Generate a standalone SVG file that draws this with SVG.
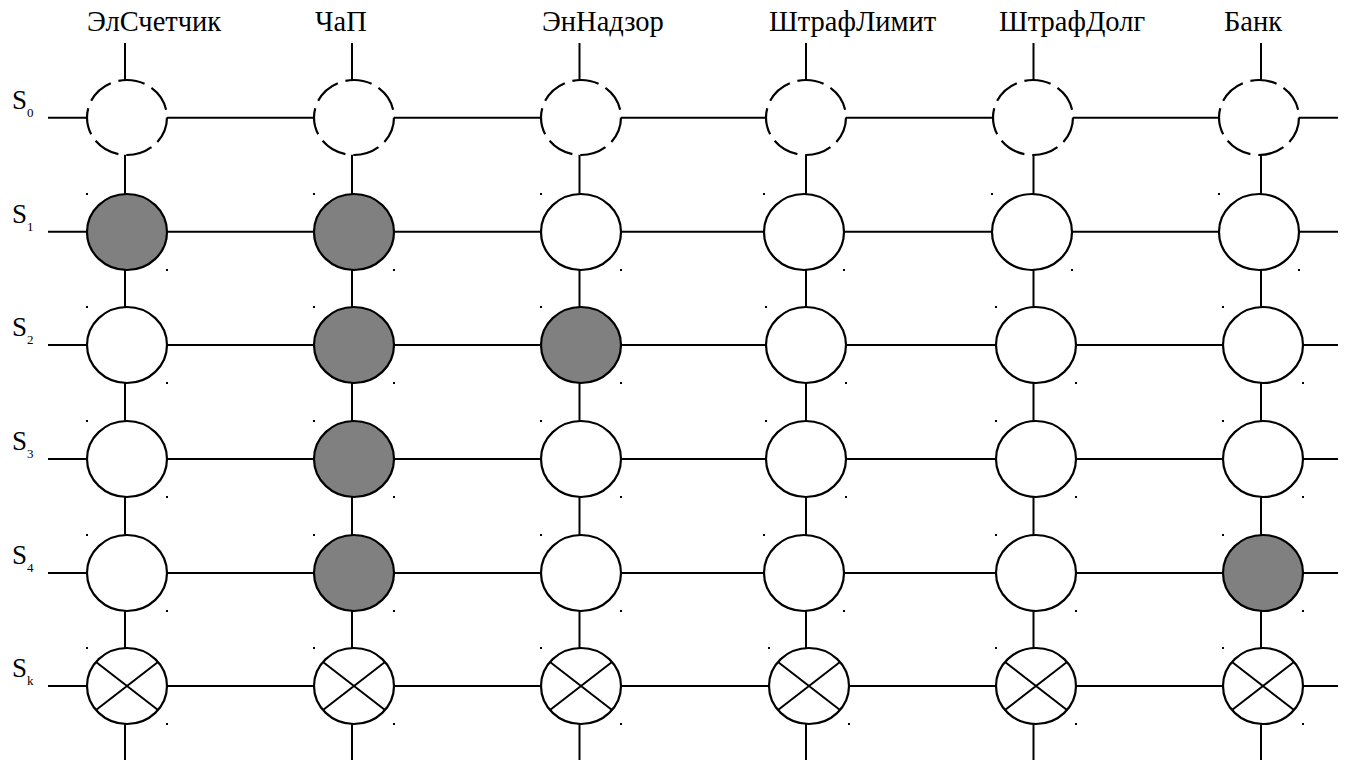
<svg xmlns="http://www.w3.org/2000/svg" width="1346" height="760" viewBox="0 0 1346 760">
<style>
.ln{stroke:#000;stroke-width:2;fill:none}
.nd{stroke:#000;stroke-width:2.2;fill:#fff}
.on{fill:#808080}
.ds{stroke-dasharray:27 8}
.x{stroke:#000;stroke-width:2}
.dt{fill:#000}
text{font-family:'Liberation Serif','DejaVu Serif',serif;fill:#000}
.hd{font-size:28.5px}
.sl{font-size:27px}
.sb{font-size:13px}
</style>
<defs>
<rect id="dot" width="2" height="2" class="dt"/>
</defs>
<rect width="1346" height="760" fill="#fff"/>
<g id="headers" font-family="Liberation Serif, DejaVu Serif, serif">
<text class="hd" x="87" y="31">ЭлСчетчик</text>
<text class="hd" x="315" y="31">ЧаП</text>
<text class="hd" x="542" y="31">ЭнНадзор</text>
<text class="hd" x="769" y="31">ШтрафЛимит</text>
<text class="hd" x="999" y="31">ШтрафДолг</text>
<text class="hd" x="1224" y="31">Банк</text>
</g>
<g id="row-labels" font-family="Liberation Serif, DejaVu Serif, serif">
<text class="sl" x="12" y="109">S<tspan class="sb" x="27" y="117">0</tspan></text>
<text class="sl" x="12" y="223">S<tspan class="sb" x="27" y="231">1</tspan></text>
<text class="sl" x="12" y="336">S<tspan class="sb" x="27" y="344">2</tspan></text>
<text class="sl" x="12" y="450">S<tspan class="sb" x="27" y="458">3</tspan></text>
<text class="sl" x="12" y="564">S<tspan class="sb" x="27" y="572">4</tspan></text>
<text class="sl" x="12" y="677">S<tspan class="sb" x="27" y="685">k</tspan></text>
</g>
<g id="connectors" class="ln">
<line x1="125" y1="43" x2="125" y2="760"/>
<line x1="352" y1="43" x2="352" y2="760"/>
<line x1="579.5" y1="43" x2="579.5" y2="760"/>
<line x1="806" y1="43" x2="806" y2="760"/>
<line x1="1033.5" y1="43" x2="1033.5" y2="760"/>
<line x1="1261" y1="43" x2="1261" y2="760"/>
<line x1="48" y1="117.7" x2="1338" y2="117.7"/>
<line x1="48" y1="231.7" x2="1338" y2="231.7"/>
<line x1="48" y1="345" x2="1338" y2="345"/>
<line x1="48" y1="459" x2="1338" y2="459"/>
<line x1="48" y1="573" x2="1338" y2="573"/>
<line x1="48" y1="686" x2="1338" y2="686"/>
</g>
<g id="n-el-s0"><ellipse class="nd ds" cx="127" cy="117.5" rx="40" ry="37.5" pathLength="245"/></g>
<g id="n-chap-s0"><ellipse class="nd ds" cx="354" cy="117.5" rx="40" ry="37.5" pathLength="245"/></g>
<g id="n-en-s0"><ellipse class="nd ds" cx="581" cy="117.5" rx="40" ry="37.5" pathLength="245"/></g>
<g id="n-lim-s0"><ellipse class="nd ds" cx="806" cy="117.5" rx="40" ry="37.5" pathLength="245"/></g>
<g id="n-dol-s0"><ellipse class="nd ds" cx="1033" cy="117.5" rx="40" ry="37.5" pathLength="245"/></g>
<g id="n-bank-s0"><ellipse class="nd ds" cx="1259" cy="117.5" rx="40" ry="37.5" pathLength="245"/></g>
<g id="n-el-s1"><ellipse class="nd on" cx="127" cy="232" rx="40" ry="38"/><use href="#dot" x="86" y="193"/><use href="#dot" x="166" y="269"/></g>
<g id="n-chap-s1"><ellipse class="nd on" cx="354" cy="232" rx="40" ry="38"/><use href="#dot" x="313" y="193"/><use href="#dot" x="393" y="269"/></g>
<g id="n-en-s1"><ellipse class="nd" cx="581" cy="232" rx="40" ry="38"/><use href="#dot" x="540" y="193"/><use href="#dot" x="620" y="269"/></g>
<g id="n-lim-s1"><ellipse class="nd" cx="804" cy="232" rx="40" ry="38"/><use href="#dot" x="763" y="193"/><use href="#dot" x="843" y="269"/></g>
<g id="n-dol-s1"><ellipse class="nd" cx="1032" cy="232" rx="40" ry="38"/><use href="#dot" x="991" y="193"/><use href="#dot" x="1071" y="269"/></g>
<g id="n-bank-s1"><ellipse class="nd" cx="1259" cy="232" rx="40" ry="38"/><use href="#dot" x="1218" y="193"/><use href="#dot" x="1298" y="269"/></g>
<g id="n-el-s2"><ellipse class="nd" cx="127" cy="345" rx="40" ry="38"/><use href="#dot" x="86" y="306"/><use href="#dot" x="166" y="382"/></g>
<g id="n-chap-s2"><ellipse class="nd on" cx="354" cy="345" rx="40" ry="38"/><use href="#dot" x="313" y="306"/><use href="#dot" x="393" y="382"/></g>
<g id="n-en-s2"><ellipse class="nd on" cx="581" cy="345" rx="40" ry="38"/><use href="#dot" x="540" y="306"/><use href="#dot" x="620" y="382"/></g>
<g id="n-lim-s2"><ellipse class="nd" cx="806" cy="345" rx="40" ry="38"/><use href="#dot" x="765" y="306"/><use href="#dot" x="845" y="382"/></g>
<g id="n-dol-s2"><ellipse class="nd" cx="1036" cy="345" rx="40" ry="38"/><use href="#dot" x="995" y="306"/><use href="#dot" x="1075" y="382"/></g>
<g id="n-bank-s2"><ellipse class="nd" cx="1263" cy="345" rx="40" ry="38"/><use href="#dot" x="1222" y="306"/><use href="#dot" x="1302" y="382"/></g>
<g id="n-el-s3"><ellipse class="nd" cx="127" cy="459" rx="40" ry="38"/><use href="#dot" x="86" y="420"/><use href="#dot" x="166" y="496"/></g>
<g id="n-chap-s3"><ellipse class="nd on" cx="354" cy="459" rx="40" ry="38"/><use href="#dot" x="313" y="420"/><use href="#dot" x="393" y="496"/></g>
<g id="n-en-s3"><ellipse class="nd" cx="581" cy="459" rx="40" ry="38"/><use href="#dot" x="540" y="420"/><use href="#dot" x="620" y="496"/></g>
<g id="n-lim-s3"><ellipse class="nd" cx="806" cy="459" rx="40" ry="38"/><use href="#dot" x="765" y="420"/><use href="#dot" x="845" y="496"/></g>
<g id="n-dol-s3"><ellipse class="nd" cx="1036" cy="459" rx="40" ry="38"/><use href="#dot" x="995" y="420"/><use href="#dot" x="1075" y="496"/></g>
<g id="n-bank-s3"><ellipse class="nd" cx="1263" cy="459" rx="40" ry="38"/><use href="#dot" x="1222" y="420"/><use href="#dot" x="1302" y="496"/></g>
<g id="n-el-s4"><ellipse class="nd" cx="127" cy="573" rx="40" ry="38"/><use href="#dot" x="86" y="534"/><use href="#dot" x="166" y="610"/></g>
<g id="n-chap-s4"><ellipse class="nd on" cx="354" cy="573" rx="40" ry="38"/><use href="#dot" x="313" y="534"/><use href="#dot" x="393" y="610"/></g>
<g id="n-en-s4"><ellipse class="nd" cx="581" cy="573" rx="40" ry="38"/><use href="#dot" x="540" y="534"/><use href="#dot" x="620" y="610"/></g>
<g id="n-lim-s4"><ellipse class="nd" cx="804" cy="573" rx="40" ry="38"/><use href="#dot" x="763" y="534"/><use href="#dot" x="843" y="610"/></g>
<g id="n-dol-s4"><ellipse class="nd" cx="1036" cy="573" rx="40" ry="38"/><use href="#dot" x="995" y="534"/><use href="#dot" x="1075" y="610"/></g>
<g id="n-bank-s4"><ellipse class="nd on" cx="1263" cy="573" rx="40" ry="38"/><use href="#dot" x="1222" y="534"/><use href="#dot" x="1302" y="610"/></g>
<g id="n-el-sk"><ellipse class="nd" cx="127" cy="686" rx="40" ry="38"/><path class="x" d="M96 662L158 710M96 710L158 662"/><use href="#dot" x="86" y="647"/><use href="#dot" x="166" y="723"/></g>
<g id="n-chap-sk"><ellipse class="nd" cx="354" cy="686" rx="40" ry="38"/><path class="x" d="M323 662L385 710M323 710L385 662"/><use href="#dot" x="313" y="647"/><use href="#dot" x="393" y="723"/></g>
<g id="n-en-sk"><ellipse class="nd" cx="581" cy="686" rx="40" ry="38"/><path class="x" d="M550 662L612 710M550 710L612 662"/><use href="#dot" x="540" y="647"/><use href="#dot" x="620" y="723"/></g>
<g id="n-lim-sk"><ellipse class="nd" cx="809" cy="686" rx="40" ry="38"/><path class="x" d="M778 662L840 710M778 710L840 662"/><use href="#dot" x="768" y="647"/><use href="#dot" x="848" y="723"/></g>
<g id="n-dol-sk"><ellipse class="nd" cx="1036" cy="686" rx="40" ry="38"/><path class="x" d="M1005 662L1067 710M1005 710L1067 662"/><use href="#dot" x="995" y="647"/><use href="#dot" x="1075" y="723"/></g>
<g id="n-bank-sk"><ellipse class="nd" cx="1263" cy="686" rx="40" ry="38"/><path class="x" d="M1232 662L1294 710M1232 710L1294 662"/><use href="#dot" x="1222" y="647"/><use href="#dot" x="1302" y="723"/></g>
</svg>
